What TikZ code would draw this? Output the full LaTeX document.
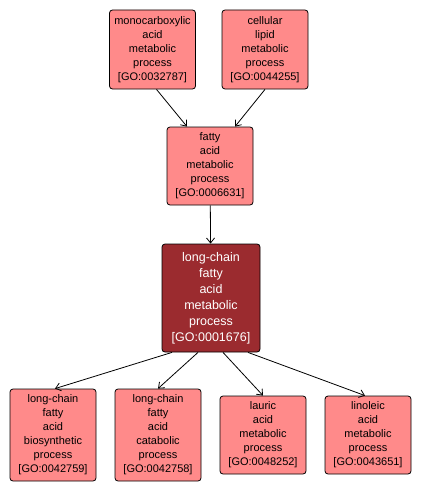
\documentclass[tikz,border=0pt]{standalone}
\usepackage{fontspec}
\setmainfont{Liberation Sans}
\usetikzlibrary{arrows.meta}
\definecolor{salmon}{HTML}{FF8A8A}
\definecolor{maroon}{HTML}{9B2B2F}

\begin{document}
\begin{tikzpicture}[x=1pt,y=-1pt,
    goterm/.style={draw=black,line width=0.8pt,fill=salmon,rounded corners=3pt,
      align=center,inner sep=0pt,minimum width=86pt,
      font=\fontsize{11}{14}\selectfont},
    goroot/.style={goterm,fill=maroon,text=white,minimum width=98pt,
      font=\fontsize{12.5}{16}\selectfont},
    isa/.style={draw=black,line width=0.8pt,-{Straight Barb[length=5pt,width=8pt]}}]
  \useasboundingbox (0,0) rectangle (421,495);
  % parents
  \node[goterm,minimum height=79pt] (mono) at (152.5,49.5)
        {monocarboxylic\\acid\\metabolic\\process\\{[GO:0032787]}};
  \node[goterm,minimum height=79pt] (cell) at (265,49.5)
        {cellular\\lipid\\metabolic\\process\\{[GO:0044255]}};
  \node[goterm,minimum height=78pt] (fatty) at (210,166)
        {fatty\\acid\\metabolic\\process\\{[GO:0006631]}};
  % focus term
  \node[goroot,minimum height=108pt] (lcfa) at (211,298)
        {long-chain\\fatty\\acid\\metabolic\\process\\{[GO:0001676]}};
  % children
  \node[goterm,minimum height=92pt] (bio) at (53,435)
        {long-chain\\fatty\\acid\\biosynthetic\\process\\{[GO:0042759]}};
  \node[goterm,minimum height=92pt] (cat) at (158,435)
        {long-chain\\fatty\\acid\\catabolic\\process\\{[GO:0042758]}};
  \node[goterm,minimum height=78pt] (lau) at (263,435)
        {lauric\\acid\\metabolic\\process\\{[GO:0048252]}};
  \node[goterm,minimum height=78pt] (lin) at (368,435)
        {linoleic\\acid\\metabolic\\process\\{[GO:0043651]}};
  % is_a edges
  \draw[isa] ([xshift=4pt]mono.south) -- ([xshift=-23pt]fatty.north);
  \draw[isa] (cell.south) -- ([xshift=25pt]fatty.north);
  \draw[isa] (fatty) -- (lcfa);
  \draw[isa] ([xshift=-39pt]lcfa.south) -- ([xshift=2pt]bio.north);
  \draw[isa] ([xshift=-13pt]lcfa.south) -- (cat.north);
  \draw[isa] ([xshift=12pt]lcfa.south) -- (lau.north);
  \draw[isa] ([xshift=37pt]lcfa.south) -- ([xshift=-3pt]lin.north);
\end{tikzpicture}
\end{document}
